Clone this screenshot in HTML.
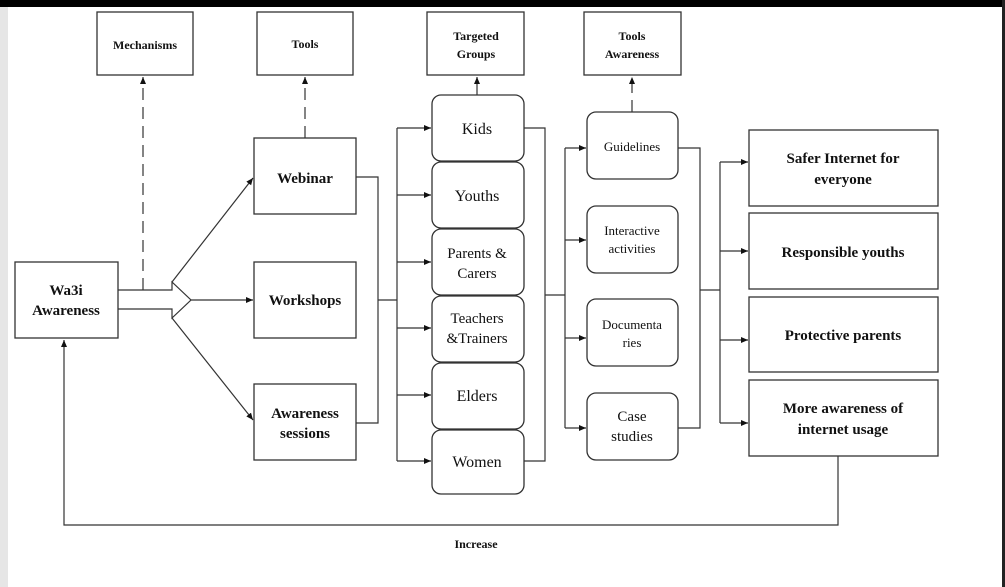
<!DOCTYPE html>
<html><head><meta charset="utf-8"><style>
html,body{margin:0;padding:0;background:#fff;}
svg{display:block;}
text{font-family:"Liberation Serif",serif;fill:#111;}
.b{font-weight:bold;}
</style></head><body>
<svg width="1005" height="587" viewBox="0 0 1005 587" xmlns="http://www.w3.org/2000/svg">
<defs><marker id="a" markerWidth="8" markerHeight="8" refX="7" refY="4" orient="auto" markerUnits="userSpaceOnUse"><path d="M0,1 L7,4 L0,7 z" fill="#111"/></marker></defs>
<rect x="0" y="0" width="1005" height="587" fill="#fff"/>
<rect x="0" y="0" width="8" height="587" fill="#e6e6e6"/>
<rect x="0" y="0" width="1005" height="7" fill="#000"/>
<rect x="1002" y="0" width="3" height="587" fill="#222"/>
<g fill="#fff" stroke="#333" stroke-width="1.3">
<rect x="97" y="12" width="96" height="63"/>
<rect x="257" y="12" width="96" height="63"/>
<rect x="427" y="12" width="97" height="63"/>
<rect x="584" y="12" width="97" height="63"/>
<rect x="15" y="262" width="103" height="76"/>
<rect x="254" y="138" width="102" height="76"/>
<rect x="254" y="262" width="102" height="76"/>
<rect x="254" y="384" width="102" height="76"/>
<rect x="432" y="95" width="92" height="66" rx="9"/>
<rect x="432" y="162" width="92" height="66" rx="9"/>
<rect x="432" y="229" width="92" height="66" rx="9"/>
<rect x="432" y="296" width="92" height="66" rx="9"/>
<rect x="432" y="363" width="92" height="66" rx="9"/>
<rect x="432" y="430" width="92" height="64" rx="9"/>
<rect x="587" y="112" width="91" height="67" rx="9"/>
<rect x="587" y="206" width="91" height="67" rx="9"/>
<rect x="587" y="299" width="91" height="67" rx="9"/>
<rect x="587" y="393" width="91" height="67" rx="9"/>
<rect x="749" y="130" width="189" height="76"/>
<rect x="749" y="213" width="189" height="76"/>
<rect x="749" y="297" width="189" height="75"/>
<rect x="749" y="380" width="189" height="76"/>
</g>
<g stroke="#333" stroke-width="1.2" fill="none">
<line x1="143" y1="290" x2="143" y2="77" stroke-dasharray="12,7" marker-end="url(#a)"/>
<line x1="305" y1="138" x2="305" y2="77" stroke-dasharray="12,7" marker-end="url(#a)"/>
<line x1="477" y1="95" x2="477" y2="77" marker-end="url(#a)"/>
<line x1="632" y1="112" x2="632" y2="77" stroke-dasharray="12,7" marker-end="url(#a)"/>
<path d="M118,290 L172,290 L172,282 L191,300 L172,318 L172,309 L118,309"/>
<line x1="172" y1="282" x2="253" y2="178" marker-end="url(#a)"/>
<line x1="191" y1="300" x2="253" y2="300" marker-end="url(#a)"/>
<line x1="172" y1="318" x2="253" y2="420" marker-end="url(#a)"/>
<path d="M356,177 L378,177 L378,423 L356,423"/>
<line x1="378" y1="300" x2="397" y2="300"/>
<line x1="397" y1="128" x2="397" y2="461"/>
<g marker-end="url(#a)">
<line x1="397" y1="128" x2="431" y2="128"/>
<line x1="397" y1="195" x2="431" y2="195"/>
<line x1="397" y1="262" x2="431" y2="262"/>
<line x1="397" y1="328" x2="431" y2="328"/>
<line x1="397" y1="395" x2="431" y2="395"/>
<line x1="397" y1="461" x2="431" y2="461"/>
</g>
<path d="M524,128 L545,128 L545,461 L524,461"/>
<line x1="545" y1="295" x2="565" y2="295"/>
<line x1="565" y1="148" x2="565" y2="428"/>
<g marker-end="url(#a)">
<line x1="565" y1="148" x2="586" y2="148"/>
<line x1="565" y1="240" x2="586" y2="240"/>
<line x1="565" y1="338" x2="586" y2="338"/>
<line x1="565" y1="428" x2="586" y2="428"/>
</g>
<path d="M678,148 L700,148 L700,428 L678,428"/>
<line x1="700" y1="290" x2="720" y2="290"/>
<line x1="720" y1="162" x2="720" y2="423"/>
<g marker-end="url(#a)">
<line x1="720" y1="162" x2="748" y2="162"/>
<line x1="720" y1="251" x2="748" y2="251"/>
<line x1="720" y1="340" x2="748" y2="340"/>
<line x1="720" y1="423" x2="748" y2="423"/>
</g>
<path d="M838,456 L838,525 L64,525 L64,340" marker-end="url(#a)"/>
</g>
<g text-anchor="middle">
<text x="145" y="49" class="b" font-size="12">Mechanisms</text>
<text x="305" y="48" class="b" font-size="12">Tools</text>
<text x="476" y="40" class="b" font-size="12">Targeted</text>
<text x="476" y="58" class="b" font-size="12">Groups</text>
<text x="632" y="40" class="b" font-size="12">Tools</text>
<text x="632" y="58" class="b" font-size="12">Awareness</text>
<text x="66" y="295" class="b" font-size="15">Wa3i</text>
<text x="66" y="315" class="b" font-size="15">Awareness</text>
<text x="305" y="183" class="b" font-size="15">Webinar</text>
<text x="305" y="305" class="b" font-size="15">Workshops</text>
<text x="305" y="418" class="b" font-size="15">Awareness</text>
<text x="305" y="438" class="b" font-size="15">sessions</text>
<text x="477" y="134" font-size="16">Kids</text>
<text x="477" y="201" font-size="16">Youths</text>
<text x="477" y="258" font-size="15">Parents &amp;</text>
<text x="477" y="278" font-size="15">Carers</text>
<text x="477" y="323" font-size="15">Teachers</text>
<text x="477" y="343" font-size="15">&amp;Trainers</text>
<text x="477" y="401" font-size="16">Elders</text>
<text x="477" y="467" font-size="16">Women</text>
<text x="632" y="151" font-size="13">Guidelines</text>
<text x="632" y="235" font-size="13">Interactive</text>
<text x="632" y="253" font-size="13">activities</text>
<text x="632" y="329" font-size="13">Documenta</text>
<text x="632" y="347" font-size="13">ries</text>
<text x="632" y="421" font-size="15">Case</text>
<text x="632" y="441" font-size="15">studies</text>
<text x="843" y="163" class="b" font-size="15">Safer Internet for</text>
<text x="843" y="184" class="b" font-size="15">everyone</text>
<text x="843" y="257" class="b" font-size="15">Responsible youths</text>
<text x="843" y="340" class="b" font-size="15">Protective parents</text>
<text x="843" y="413" class="b" font-size="15">More awareness of</text>
<text x="843" y="434" class="b" font-size="15">internet usage</text>
<text x="476" y="548" class="b" font-size="12">Increase</text>
</g>
</svg>
</body></html>
